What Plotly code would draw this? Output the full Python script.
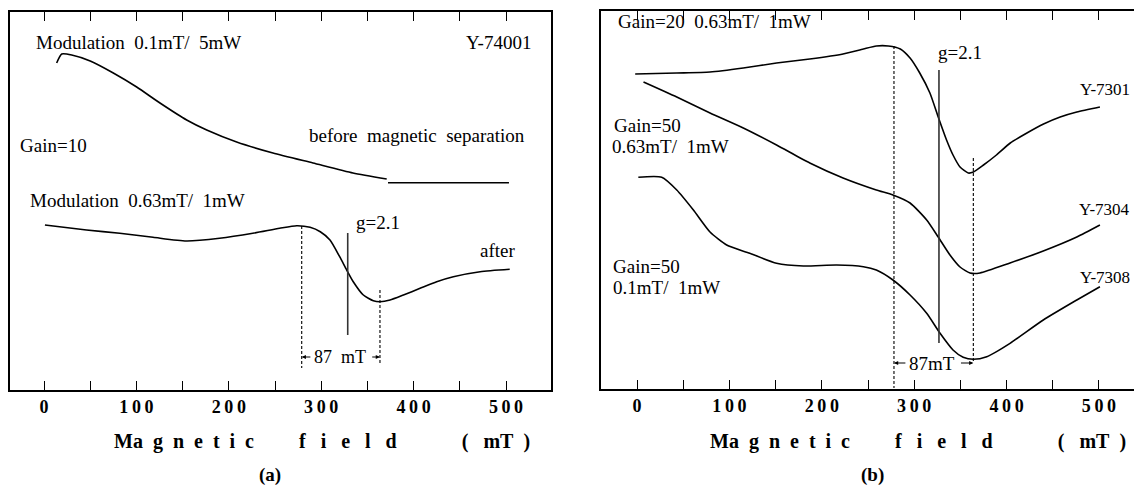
import plotly.graph_objects as go

W, H = 1134, 487

# ---------------- data (field in mT, signal in arbitrary units) ----------------
left_before_field = [13.7, 19.2, 30, 50, 75, 100.3, 125.5, 154.4, 176.1, 208.5, 247.8, 291.1, 334.4, 370.9]
left_before_signal = [327, 336, 335, 329, 317, 303, 287, 270, 260, 248, 237, 227, 217, 211]
left_base_field = [372.3, 503.2]
left_base_signal = [207.3, 207.3]

left_after_field = [1, 46, 82, 118, 154, 190, 226, 255, 273.5, 288, 299, 309.5, 320, 327.6, 334.7, 345.6,
                    356.4, 363.6, 374.5, 389, 407, 425, 443, 472, 504]
left_after_signal = [165, 160, 156.7, 152.7, 149, 151.7, 156.7, 161.7, 164.3, 162.7, 158.3, 150, 133.3, 120,
                     108.3, 95, 89.3, 88.3, 90, 95, 101.7, 108.3, 113.3, 118.3, 120.7]

y7301_field = [-2, 43, 79, 115, 151, 187, 223, 245, 259, 272, 285, 295.5, 306, 317, 326, 335, 342, 349.6,
               358.5, 364, 375, 389, 404, 422, 440, 458, 476, 501]
y7301_signal = [315, 316, 317, 321, 326, 330, 335, 340, 343, 343, 340, 331, 316, 296, 272, 249, 234, 222,
                216, 217, 224, 234, 246, 256, 265, 272, 277, 282]

y7304_field = [7, 43, 79, 115, 151, 187, 223, 259, 277, 295.5, 313.5, 326, 338.7, 349.6, 360.4, 371.2, 403.7,
               439.7, 476, 501]
y7304_signal = [307, 292, 276, 261, 244, 226, 211, 199, 194, 186, 169, 152, 134, 122, 116, 116, 126, 138,
                152, 164]

y7308_field = [1.4, 26.7, 43, 61, 79, 97, 122, 151, 180, 216, 245, 259, 277, 295.5, 313.5, 328, 342, 353,
               364, 378.5, 403.7, 439.7, 476, 501]
y7308_signal = [211.7, 211.7, 199, 179, 157, 144, 135.7, 125.7, 123, 124, 122.3, 119, 109, 94, 75.7, 55.7,
                39, 31.7, 29.7, 32.3, 45.7, 69, 89, 102.3]

# reference lines: [field, signal_top, signal_bottom]
left_peak_line = [278.9, 164, 22]
left_trough_line = [363.6, 100, 27]
left_g_line = [328.7, 157, 55]
right_peak_line = [278.1, 343, 1]
right_trough_line = [364, 231, 26]
right_g_line = [326.8, 319, 46]

tick_vals = [0, 50, 100, 150, 200, 250, 300, 350, 400, 450, 500]
tick_labels = ["0", "", "100", "", "200", "", "300", "", "400", "", "500"]

# ---------------- figure ----------------
SERIF = "Liberation Serif, Times New Roman, serif"
nb = "\u00a0"
thin = "\u2009"

fig = go.Figure()


def curve(x, y, xa, ya, width=1.6):
    fig.add_trace(go.Scatter(x=x, y=y, mode="lines", xaxis=xa, yaxis=ya,
                             line=dict(color="black", width=width, shape="spline", smoothing=0.6),
                             showlegend=False, hoverinfo="skip"))


def vline(spec, xa, ya, dash):
    fig.add_trace(go.Scatter(x=[spec[0], spec[0]], y=[spec[1], spec[2]], mode="lines", xaxis=xa, yaxis=ya,
                             line=dict(color="black" if dash else "#333", width=1.1 if dash else 1.6,
                                       dash="3px,2px" if dash else "solid"),
                             showlegend=False, hoverinfo="skip"))


curve(left_before_field, left_before_signal, "x", "y")
fig.add_trace(go.Scatter(x=left_base_field, y=left_base_signal, mode="lines", xaxis="x", yaxis="y",
                         line=dict(color="black", width=1.6), showlegend=False, hoverinfo="skip"))
curve(left_after_field, left_after_signal, "x", "y")
vline(left_peak_line, "x", "y", True)
vline(left_trough_line, "x", "y", True)
vline(left_g_line, "x", "y", False)

curve(y7301_field, y7301_signal, "x2", "y2")
curve(y7304_field, y7304_signal, "x2", "y2")
curve(y7308_field, y7308_signal, "x2", "y2")
vline(right_peak_line, "x2", "y2", True)
vline(right_trough_line, "x2", "y2", True)
vline(right_g_line, "x2", "y2", False)

tick_text = [thin.join(list(t)) for t in tick_labels]
axis_common = dict(showgrid=False, zeroline=False, showline=True, linecolor="black", linewidth=1.5,
                   ticks="inside", ticklen=9, tickwidth=1.4, tickcolor="black", mirror="ticks",
                   tickvals=tick_vals, ticktext=tick_text,
                   tickfont=dict(family=SERIF, size=18, color="black", weight="bold"))

fig.update_layout(
    width=W, height=H, margin=dict(l=0, r=0, t=0, b=0),
    paper_bgcolor="white", plot_bgcolor="white",
    xaxis=dict(domain=[10 / W, 551 / W], range=[-36.8, 548.7], anchor="y", **axis_common),
    yaxis=dict(domain=[1 - 390 / H, 1 - 12 / H], range=[0, 378], anchor="x", showgrid=False, zeroline=False,
               showline=True, linecolor="black", linewidth=1.5, mirror=True, ticks="", showticklabels=False),
    xaxis2=dict(domain=[601 / W, 1.0], range=[-39, 537.9], anchor="y2", **axis_common),
    yaxis2=dict(domain=[1 - 389 / H, 1 - 11 / H], range=[0, 378], anchor="x2", showgrid=False, zeroline=False,
                showline=True, linecolor="black", linewidth=1.5, mirror=False, ticks="", showticklabels=False),
)

ann = []


def text(s, x, y, xa, ya, xanchor="left", size=19, bold=False):
    ann.append(dict(text=s, x=x, y=y, xref=xa, yref=ya, xanchor=xanchor, yanchor="middle", showarrow=False,
                    font=dict(family=SERIF, size=size, color="black", weight="bold" if bold else "normal")))


def arrow(x_to, x_from, y, xa, ya):
    ann.append(dict(text="", x=x_to, y=y, ax=x_from, ay=y, xref=xa, yref=ya, axref=xa, ayref=ya,
                    showarrow=True, arrowhead=2, arrowsize=0.7, arrowwidth=1.2, arrowcolor="black"))


sp = nb * 2
# left panel
text("Modulation" + sp + "0.1mT/" + sp + "5mW", -10.8, 348, "x", "y")
text("Y-74001", 529, 348, "x", "y", xanchor="right")
text("Gain=10", -28, 245, "x", "y")
text("before" + sp + "magnetic" + sp + "separation", 284.5, 255, "x", "y")
text("Modulation" + sp + "0.63mT/" + sp + "1mW", -17, 190, "x", "y")
text("g=2.1", 362, 168, "x", "y", xanchor="center")
text("after", 491, 140, "x", "y", xanchor="center")
text("87" + sp + "mT", 320, 33, "x", "y", xanchor="center", size=18)
arrow(left_peak_line[0], left_peak_line[0] + 11, 33, "x", "y")
arrow(left_trough_line[0], left_trough_line[0] - 10, 33, "x", "y")

# right panel
text("Gain=20" + sp + "0.63mT/" + sp + "1mW", -23, 367, "x2", "y2")
text("g=2.1", 349.6, 336, "x2", "y2", xanchor="center")
text("Y-7301", 535.5, 299, "x2", "y2", xanchor="right", size=17)
text("Gain=50", -27, 263.5, "x2", "y2")
text("0.63mT/" + sp + "1mW", -29, 242.5, "x2", "y2")
text("Y-7304", 535.5, 179, "x2", "y2", xanchor="right", size=17)
text("Y-7308", 535.5, 112, "x2", "y2", xanchor="right", size=17)
text("Gain=50", -28, 122.5, "x2", "y2")
text("0.1mT/" + sp + "1mW", -28, 101.5, "x2", "y2")
text("87mT", 319, 26, "x2", "y2", xanchor="center")
arrow(right_peak_line[0], right_peak_line[0] + 14, 26, "x2", "y2")
arrow(right_trough_line[0], right_trough_line[0] - 15, 26, "x2", "y2")

# axis titles and panel labels
title = "Ma" + sp + sp.join(list("gnetic")) + nb * 9 + (nb * 3).join(list("field")) + nb * 13 + \
        "(" + nb * 3 + "mT" + nb * 2 + ")"
for cx in [321.5, 917.5]:
    ann.append(dict(text=title, x=cx / W, y=1 - 441 / H, xref="paper", yref="paper", xanchor="center",
                    yanchor="middle", showarrow=False,
                    font=dict(family=SERIF, size=20, color="black", weight="bold")))
for cx, lab in [(270, "(a)"), (872, "(b)")]:
    ann.append(dict(text=lab, x=cx / W, y=1 - 475 / H, xref="paper", yref="paper", xanchor="center",
                    yanchor="middle", showarrow=False,
                    font=dict(family=SERIF, size=19, color="black", weight="bold")))

fig.update_layout(annotations=ann)
fig.write_html("out.html")
